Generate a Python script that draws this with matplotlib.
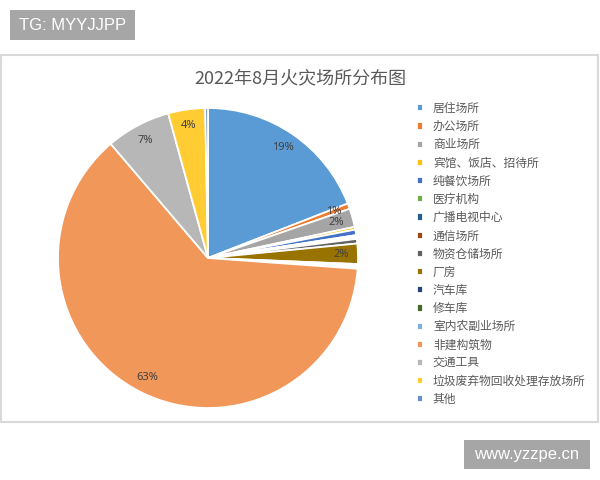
"""Pie chart of fire locations, August 2022."""

import matplotlib

matplotlib.use("Agg")
import matplotlib.pyplot as plt
from matplotlib.patches import Rectangle

plt.rcParams["font.family"] = ["Noto Sans CJK SC", "DejaVu Sans"]

TITLE = "2022年8月火灾场所分布图"

places = [
    "居住场所", "办公场所", "商业场所", "宾馆、饭店、招待所", "纯餐饮场所",
    "医疗机构", "广播电视中心", "通信场所", "物资仓储场所", "厂房",
    "汽车库", "修车库", "室内农副业场所", "非建构筑物", "交通工具",
    "垃圾废弃物回收处理存放场所", "其他",
]
# share of fires, percent
shares = [19.2, 0.6, 2.0, 0.3, 0.6, 0.1, 0.1, 0.2, 0.5, 2.2,
          0.2, 0.2, 0.1, 63.0, 7.0, 4.0, 0.3]
# the original only keeps these data labels
labelled = [True, True, True, False, False, False, False, False, False, True,
            False, False, False, True, True, True, False]

colors = [
    "#5B9BD5", "#ED7D31", "#A5A5A5", "#FFC000", "#4472C4", "#70AD47",
    "#255E91", "#9E480E", "#636363", "#997300", "#264478", "#43682B",
    "#7CAFDD", "#F1975A", "#B7B7B7", "#FFCD33", "#698ED0",
]

W, H = 600, 480


def px_rect(fig, x0, y0, x1, y1, **kw):
    """Rectangle given in pixel coords (origin top-left)."""
    fig.patches.append(Rectangle(
        (x0 / W, 1 - y1 / H), (x1 - x0) / W, (y1 - y0) / H,
        transform=fig.transFigure, **kw))


def main() -> None:
    fig = plt.figure(figsize=(W / 100, H / 100), dpi=100)
    fig.patch.set_facecolor("white")

    # chart frame
    px_rect(fig, 1, 55, 598, 422, facecolor="none", edgecolor="#D9D9D9", lw=1.5)

    # pie: centre (208, 258) px, radius 150 px
    ax = fig.add_axes([58 / W, 1 - 408 / H, 300 / W, 300 / H])
    ax.set_zorder(2)
    counter = iter(range(len(shares)))

    def fmt(pct):
        i = next(counter)
        return f"{pct:.0f}%" if labelled[i] else ""

    wedges, _, autotexts = ax.pie(
        shares, colors=colors, startangle=90, counterclock=False,
        autopct=fmt, pctdistance=0.89,
        wedgeprops=dict(edgecolor="white", linewidth=1.3),
        textprops=dict(fontsize=8, color="#404040",
                       family=["Noto Sans", "DejaVu Sans"]),
    )
    ax.set_xlim(-1, 1)
    ax.set_ylim(-1, 1)
    ax.set_aspect("equal")

    fig.text(300 / W, 1 - 78 / H, TITLE, ha="center", va="center",
             fontsize=13, color="#595959")

    fig.legend(
        wedges, places, loc="upper left",
        bbox_to_anchor=(417 / W, 1 - 102 / H), frameon=False,
        fontsize=8.5, labelcolor="#595959",
        handlelength=0.55, handleheight=0.55, handletextpad=0.8,
        labelspacing=0.44, borderpad=0, borderaxespad=0,
    )

    # watermark boxes
    px_rect(fig, 10, 10, 135, 40, facecolor="#A6A6A6", edgecolor="none")
    fig.text(72.5 / W, 1 - 25 / H, "TG: MYYJJPP", ha="center", va="center",
             fontsize=12, color="white", family="Liberation Sans")
    px_rect(fig, 464, 440, 590, 469, facecolor="#A6A6A6", edgecolor="none")
    fig.text(527 / W, 1 - 455 / H, "www.yzzpe.cn", ha="center", va="center",
             fontsize=12, color="white", family="Liberation Sans")

    fig.savefig("out.png", dpi=100)
    plt.close(fig)


if __name__ == "__main__":
    main()
